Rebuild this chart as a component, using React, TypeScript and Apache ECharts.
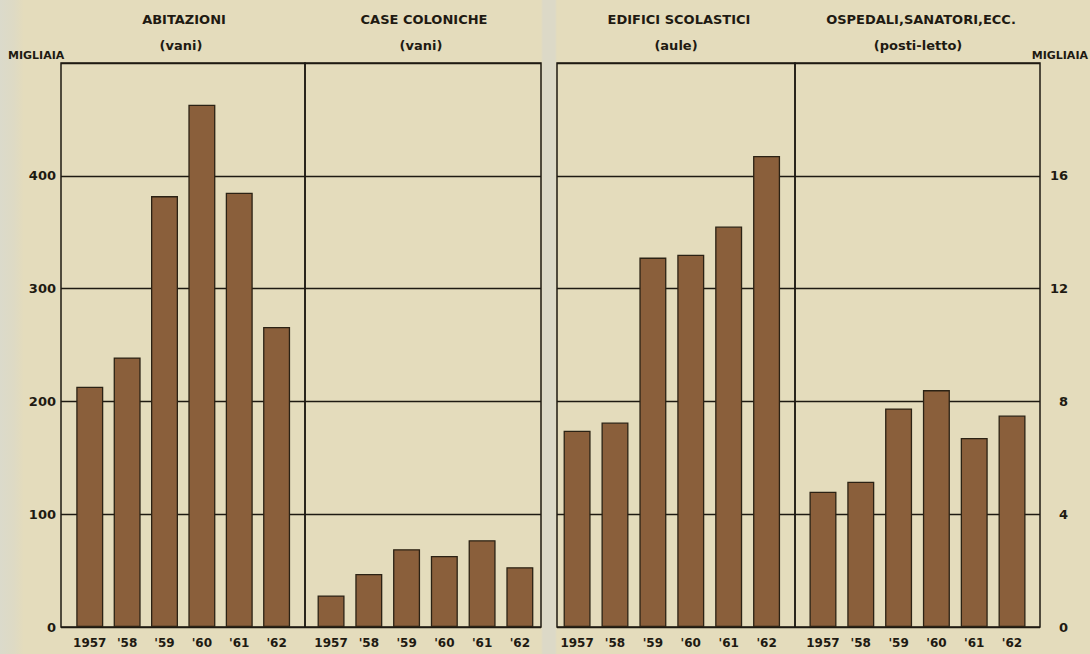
import React, { useEffect, useRef } from "react";
import * as echarts from "echarts";

const years = ["1957", "'58", "'59", "'60", "'61", "'62"];
const abitazioni = [213, 239, 382, 463, 385, 266];
const caseColoniche = [28, 47, 69, 63, 77, 53];
const edificiScolastici = [6.96, 7.25, 13.1, 13.2, 14.2, 16.7];
const ospedali = [4.8, 5.15, 7.75, 8.4, 6.7, 7.5];

const panelTitles = ["ABITAZIONI", "CASE COLONICHE", "EDIFICI SCOLASTICI", "OSPEDALI,SANATORI,ECC."];
const panelUnits = ["(vani)", "(vani)", "(aule)", "(posti-letto)"];
const leftTicks = [0, 100, 200, 300, 400];
const rightTicks = [0, 4, 8, 12, 16];
const unitLabel = "MIGLIAIA";

const INK = "#1e1a12";
const BAR = "#8a5f3b";
const FONT = "DejaVu Sans";

export default function App() {
  const ref = useRef<HTMLDivElement>(null);
  useEffect(() => {
    if (!ref.current) return;
    const chart = echarts.init(ref.current, null, { renderer: "svg" });
    const panels = [
      { left: 61, width: 244, min: -0.77, max: 5.76, data: abitazioni, y: 0, cx: 184 },
      { left: 305, width: 236, min: -0.69, max: 5.56, data: caseColoniche, y: 0, cx: 424 },
      { left: 557, width: 238, min: -0.53, max: 5.75, data: edificiScolastici, y: 1, cx: 679 },
      { left: 795, width: 245, min: -0.74, max: 5.74, data: ospedali, y: 1, cx: 921 },
    ];
    const grid = panels.map((p) => ({
      left: p.left,
      width: p.width,
      top: 63,
      height: 564,
      show: true,
      borderColor: INK,
      borderWidth: 1.5,
      backgroundColor: "transparent",
    }));
    const xAxis = panels.map((p, i) => ({
      type: "value",
      gridIndex: i,
      min: p.min,
      max: p.max,
      axisLine: { show: false },
      axisTick: { show: false },
      splitLine: { show: false },
      axisLabel: {
        customValues: [0, 1, 2, 3, 4, 5],
        formatter: (v: number) => years[Math.round(v)] ?? "",
        color: INK,
        fontFamily: FONT,
        fontWeight: "bold",
        fontSize: 12,
        margin: 10,
      },
    }));
    const yAxis = panels.map((p, i) => {
      const isLeft = p.y === 0;
      const ticks = isLeft ? leftTicks : rightTicks;
      const showLabels = i === 0 || i === 3;
      return {
        type: "value",
        gridIndex: i,
        min: 0,
        max: isLeft ? 500 : 20,
        interval: isLeft ? 100 : 4,
        position: i === 3 ? "right" : "left",
        axisLine: { show: false },
        axisTick: { show: false },
        splitLine: { show: true, lineStyle: { color: INK, width: 1.3 } },
        axisLabel: {
          show: showLabels,
          formatter: (v: number) => (ticks.includes(v) ? String(v) : ""),
          color: INK,
          fontFamily: FONT,
          fontWeight: "bold",
          fontSize: 13,
          margin: i === 3 ? 28 : 5,
          align: "right",
        },
      };
    });
    const series = panels.map((p, i) => ({
      type: "bar",
      xAxisIndex: i,
      yAxisIndex: i,
      barWidth: 27,
      data: p.data.map((v, k) => [k, v]),
      itemStyle: { color: BAR, borderColor: "#2b2214", borderWidth: 1.3 },
    }));
    const graphic: any[] = [];
    panels.forEach((p, i) => {
      graphic.push({
        type: "text",
        x: p.cx,
        y: 19,
        style: {
          text: panelTitles[i],
          fill: INK,
          font: `bold 13px ${FONT}`,
          textAlign: "center",
          textVerticalAlign: "middle",
        },
      });
      graphic.push({
        type: "text",
        x: p.cx - 3,
        y: 45,
        style: {
          text: panelUnits[i],
          fill: INK,
          font: `bold 13px ${FONT}`,
          textAlign: "center",
          textVerticalAlign: "middle",
        },
      });
    });
    graphic.push({
      type: "text",
      x: 8,
      y: 55,
      style: { text: unitLabel, fill: INK, font: `bold 11px ${FONT}`, textAlign: "left", textVerticalAlign: "middle" },
    });
    graphic.push({
      type: "text",
      x: 1088,
      y: 55,
      style: { text: unitLabel, fill: INK, font: `bold 11px ${FONT}`, textAlign: "right", textVerticalAlign: "middle" },
    });
    chart.setOption({
      animation: false,
      backgroundColor: "transparent",
      grid,
      xAxis,
      yAxis,
      series,
      graphic,
    } as any);
    return () => chart.dispose();
  }, []);
  return (
    <div
      style={{
        position: "absolute",
        left: 0,
        top: 0,
        width: 1090,
        height: 654,
        background:
          "linear-gradient(to right, #dbdacb 0px, #dedac4 14px, #e4dcbc 24px, #e4dcbc 541px, #dcd9c7 543px, #dcd9c7 555px, #e4dcbc 557px, #e4dcbc 100%)",
      }}
    >
      <div ref={ref} style={{ width: 1090, height: 654 }} />
    </div>
  );
}
